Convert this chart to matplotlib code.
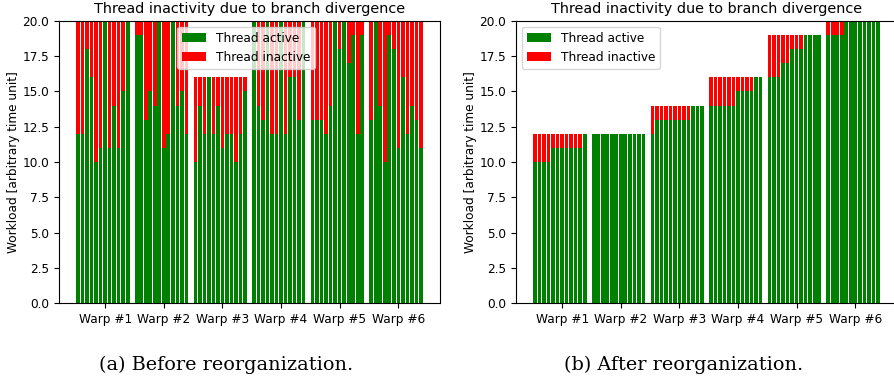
import numpy as np
import matplotlib
matplotlib.use('Agg')
import matplotlib.pyplot as plt

# workload per thread, 6 warps x 12 threads
before_warps = [
    [12, 12, 18, 16, 10, 11, 20, 11, 14, 11, 15, 20],
    [19, 19, 13, 15, 14, 20, 11, 12, 20, 14, 15, 12],
    [10, 14, 12, 16, 12, 14, 11, 12, 12, 10, 12, 15],
    [20, 14, 13, 20, 12, 12, 20, 12, 16, 16, 13, 20],
    [13, 13, 13, 12, 14, 20, 18, 20, 17, 19, 12, 19],
    [13, 20, 14, 10, 19, 18, 11, 16, 12, 14, 13, 11],
]
after_warps = [
    [10, 10, 10, 10, 11, 11, 11, 11, 11, 11, 11, 12],
    [12, 12, 12, 12, 12, 12, 12, 12, 12, 12, 12, 12],
    [12, 13, 13, 13, 13, 13, 13, 13, 13, 14, 14, 14],
    [14, 14, 14, 14, 14, 14, 15, 15, 15, 15, 16, 16],
    [16, 16, 16, 17, 17, 18, 18, 18, 19, 19, 19, 19],
    [19, 19, 19, 19, 20, 20, 20, 20, 20, 20, 20, 20],
]
warp_labels = ['Warp #1', 'Warp #2', 'Warp #3', 'Warp #4', 'Warp #5', 'Warp #6']

plt.rcParams['font.size'] = 8.7


def plot_warps(ax, warps, legend_kw):
    n = len(warps[0])
    for w, loads in enumerate(warps):
        loads = np.array(loads)
        x = w * (n + 1) + np.arange(n)
        idle = loads.max() - loads
        ax.bar(x, loads, width=0.8, color='green',
               label='Thread active' if w == 0 else None)
        ax.bar(x, idle, width=0.8, bottom=loads, color='red',
               label='Thread inactive' if w == 0 else None)
    ax.set_xticks([w * (n + 1) + n / 2 for w in range(len(warps))])
    ax.set_xticklabels(warp_labels)
    ax.set_ylim(0, 20)
    ax.set_ylabel('Workload [arbitrary time unit]', labelpad=2)
    ax.set_title('Thread inactivity due to branch divergence', fontsize=10.4)
    ax.legend(**legend_kw)


fig = plt.figure(figsize=(8.95, 3.81), dpi=100)
ax1 = fig.add_axes([0.0659, 0.2047, 0.4257, 0.7402])
ax2 = fig.add_axes([0.5765, 0.2047, 0.4257, 0.7402])

plot_warps(ax1, before_warps, dict(loc='upper left', bbox_to_anchor=(0.295, 1.0)))
plot_warps(ax2, after_warps, dict(loc='upper left'))

fig.text(0.253, 0.042, '(a) Before reorganization.', ha='center', va='center',
         family='DejaVu Serif', fontsize=13.9)
fig.text(0.764, 0.042, '(b) After reorganization.', ha='center', va='center',
         family='DejaVu Serif', fontsize=13.9)

plt.savefig('out.png', dpi=100)
plt.close()
